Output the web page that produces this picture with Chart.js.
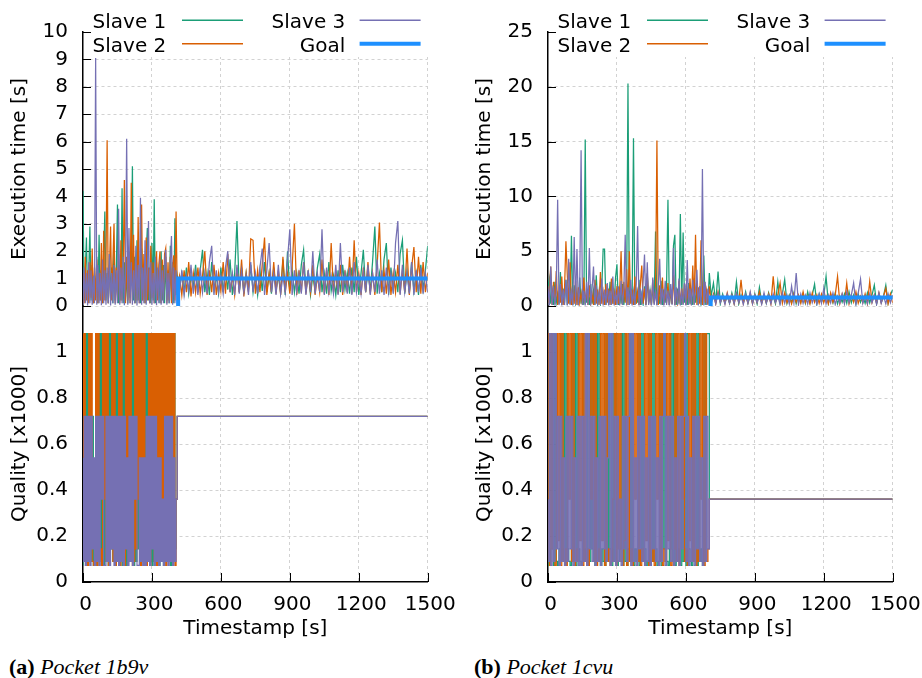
<!DOCTYPE html>
<html>
<head>
<meta charset="utf-8">
<script src="https://cdn.jsdelivr.net/npm/chart.js@4/dist/chart.umd.min.js"></script>
<style>
html,body{margin:0;padding:0;background:#fff;width:922px;height:678px;overflow:hidden;}
.wrap{position:absolute;top:0;width:457px;height:650px;}
#wrapL{left:0;}
#wrapR{left:465px;}
.cap{position:absolute;top:656px;font-family:"Liberation Serif","Times New Roman",serif;font-size:22px;line-height:22px;color:#000;white-space:nowrap;}
.cap b{font-weight:bold;}
.cap i{font-style:italic;}
</style>
</head>
<body>
<div class="wrap" id="wrapL"><canvas id="cL" width="457" height="650"></canvas></div>
<div class="wrap" id="wrapR"><canvas id="cR" width="457" height="650"></canvas></div>
<div class="cap" style="left:9px;"><b>(a)</b> <i>Pocket 1b9v</i></div>
<div class="cap" style="left:474px;"><b>(b)</b> <i>Pocket 1cvu</i></div>
<script>
// ---------- shared axis ticks ----------
const xTicks = [0, 300, 600, 900, 1200, 1500];
const qualityTicks = [0, 0.2, 0.4, 0.6, 0.8, 1];
const execTicksL = [0, 1, 2, 3, 4, 5, 6, 7, 8, 9, 10];
const execTicksR = [0, 5, 10, 15, 20, 25];
const seriesNames = ['Slave 1', 'Slave 2', 'Slave 3', 'Goal'];

// ---------- Pocket 1b9v (left) ----------
const stepPreL = 5;          // s between samples before the switch
const postStartL = 420, stepPostL = 10;
const execPre1L = [4.2,0.2,1.3,2.5,0.1,1.2,2.9,0.2,1.5,0.1, 1.1,0.3,1.8,0.1,2.6,0.2,1.3,0.1,1.6,3.45, 0.2,1.2,0.1,1.9,0.3,1.4,0.1,2.2,0.2,1.3, 3.7,0.1,1.5,0.2,4.3,0.1,1.6,0.2,1.2,0.1, 2.0,0.3,1.4,5.1,0.2,1.8,0.1,2.4,0.2,1.3, 0.1,2.1,0.2,1.5,0.1,1.9,2.85,0.2,1.4,0.1, 2.3,0.2,3.9,0.1,1.6,0.3,1.2,0.1,2.0,0.2, 1.5,0.1,1.8,0.2,1.3,0.1,2.2,0.2,1.6,0.1, 3.2,0.4,1.1];
const execPre2L = [1.2,0.1,1.8,0.2,1.3,0.1,1.6,0.3,2.1,0.1, 1.4,0.2,1.7,0.1,1.2,0.2,2.3,0.1,2.75,0.2, 1.5,6.05,0.1,1.3,2.9,0.2,1.6,3.0,0.1,1.4, 0.2,1.9,0.1,2.4,0.2,1.5,4.6,0.1,1.8,0.2, 1.3,0.1,4.5,0.2,2.6,0.1,1.7,0.2,3.25,0.1, 1.5,3.7,0.2,1.9,0.1,2.5,0.2,1.4,0.1,2.2, 0.3,1.6,0.1,1.3,2.0,0.2,1.5,2.0,0.1,1.7, 0.2,1.9,2.1,0.1,1.6,0.2,1.8,0.1,1.5,1.85, 0.2,3.45,0.6];
const execPre3L = [0.05,1.4,0.1,1.2,0.02,1.6,0.1,1.3,0.05,1.1, 0.1,9.05,0.05,1.5,0.1,1.2,0.03,1.7,0.1,1.3, 0.05,1.4,0.1,1.9,0.02,1.2,0.1,1.5,0.05,1.3, 0.1,3.55,0.05,1.4,0.1,1.8,0.03,1.2,6.1,0.05, 2.85,0.1,1.6,0.05,1.3,0.1,2.2,0.02,1.5,0.1, 3.95,0.05,1.4,0.1,2.4,0.05,1.3,3.1,0.1,1.6, 0.05,1.2,0.1,1.8,0.03,1.4,0.1,1.7,0.05,1.3, 0.1,1.5,2.05,0.05,1.2,0.1,1.6,2.55,0.05,1.4, 0.1,1.3,0.2];
const execPost1L = [0.6,1.2,0.5,1.4,0.45,1.1,0.7,1.5,0.5,1.3, 2.05,0.5,1.2,0.4,1.6,0.6,1.1,0.45,1.4,0.5, 1.3,0.6,1.7,0.4,1.2,3.1,0.5,1.4,0.45,1.2, 0.6,1.5,0.5,1.1,0.4,1.3,0.55,1.6,0.5,1.2, 0.45,1.4,0.6,1.1,0.5,1.7,0.4,2.0,0.55,1.3, 0.5,1.2,0.45,1.5,2.05,0.5,1.3,0.4,1.1,0.6, 1.4,1.9,0.5,1.2,0.45,1.6,0.55,1.1,0.4,1.3, 0.5,1.5,0.6,1.2,0.45,1.4,0.5,1.8,0.4,1.2, 2.05,0.5,1.3,0.55,1.6,2.9,0.45,1.2,0.5,1.7, 2.3,0.4,1.4,0.6,1.2,0.5,1.9,2.4,0.45,1.3, 0.5,1.6,0.55,1.2,0.4,1.5,0.6,1.3,2.2];
const execPost2L = [1.1,0.4,1.3,0.5,1.6,0.35,1.2,0.5,1.4,0.45, 1.1,2.0,0.4,1.3,0.5,1.5,0.4,1.2,0.55,1.6, 0.45,1.9,0.5,1.1,0.4,1.4,0.5,1.7,0.35,1.2, 0.5,2.45,2.4,0.45,1.3,0.5,1.5,2.5,0.4,1.2, 0.5,1.6,0.45,1.3,0.4,1.8,0.5,1.2,0.45,1.4, 3.0,0.4,1.3,0.5,1.6,0.45,1.2,0.5,1.5,0.4, 1.1,0.5,1.7,0.45,1.3,0.4,2.3,0.5,1.2,0.45, 1.5,0.4,1.3,0.5,1.8,0.45,2.4,0.5,1.2,0.4, 1.4,0.5,1.6,0.45,1.2,0.4,1.5,3.05,0.5,1.3, 0.45,1.7,0.4,1.2,0.5,1.5,0.45,1.3,0.5,2.1, 0.4,1.4,2.15,0.5,1.8,0.45,1.6,0.5,1.2];
const execPost3L = [0.5,1.3,0.4,1.1,0.55,1.5,0.45,1.2,0.4,1.4, 0.5,1.2,0.45,1.6,2.2,0.4,1.3,0.5,1.1,0.45, 1.4,2.0,0.5,1.2,0.4,1.5,0.45,1.3,0.5,1.1, 0.4,1.6,0.5,1.2,0.45,1.4,2.1,0.4,1.3,2.3, 0.5,1.2,0.4,1.5,0.45,1.1,0.5,1.7,2.8,0.4, 1.3,0.5,1.2,0.45,1.6,0.4,1.3,0.5,2.0,0.45, 1.2,0.5,2.8,0.4,1.4,0.5,1.1,0.45,1.5,0.4, 2.3,0.5,1.2,0.45,1.4,0.4,1.6,0.5,1.1,0.45, 1.3,0.5,1.5,0.4,1.2,0.5,1.7,0.45,1.3,0.4, 1.4,0.5,1.2,0.45,2.3,3.1,0.4,1.5,0.5,1.2, 0.45,1.6,0.4,1.3,0.5,1.4,0.45,1.2,0.5];
const goalTimesL = [414, 414, 1500];
const goalValuesL = [0, 1.0, 1.0];
const qualPre1L = [0.072,1.08,0.09,1.08,0.072,1.08,0.144,1.08,0.09,0.72, 0.072,0.09,1.08,0.072,1.08,0.144,1.08,0.09,1.08,0.072, 1.08,0.09,1.08,0.072,1.08,0.144,1.08,0.09,1.08,0.072, 1.08,0.09,1.08,0.144,1.08,0.072,1.08,0.09,1.08,0.072, 1.08,0.144,1.08,0.09,1.08,0.072,1.08,0.09,1.08,0.144, 1.08,0.072,1.08,0.09,1.08,0.072,1.08,0.144,1.08,0.09, 1.08,0.072,1.08,0.09,0.72,0.144,1.08,0.072,1.08,0.09, 1.08,0.072,1.08,0.144,1.08,0.09,1.08,0.072,1.08,0.09, 1.08,0.144,0.36];
const qualPre2L = [1.08,0.09,1.08,0.144,0.09,0.072,1.08,0.18,1.08,0.09, 0.072,0.144,1.08,0.072,1.08,0.09,0.144,0.072,1.08,0.36, 1.08,0.09,1.08,0.072,0.144,0.18,1.08,0.09,1.08,0.072, 0.09,0.144,1.08,0.072,1.08,0.09,0.18,0.072,1.08,0.144, 1.08,0.09,1.08,0.18,0.072,0.09,1.08,0.144,1.08,0.36, 1.08,0.072,1.08,0.09,1.08,0.144,0.072,0.09,1.08,0.072, 1.08,0.18,1.08,0.09,1.08,0.072,1.08,0.144,1.08,0.09, 1.08,0.36,1.08,0.072,1.08,0.09,1.08,0.144,1.08,0.18, 1.08,0.072,0.36];
const qualPre3L = [0.54,0.09,0.72,0.072,0.72,0.09,0.72,0.072,0.72,0.144, 0.54,0.072,0.72,0.09,0.72,0.072,0.72,0.36,0.72,0.072, 0.072,0.72,0.09,0.72,0.072,0.72,0.144,0.72,0.072,0.72, 0.09,0.72,0.072,0.72,0.09,0.72,0.072,0.72,0.144,0.54, 0.072,0.72,0.09,0.72,0.072,0.72,0.36,0.72,0.072,0.072, 0.54,0.09,0.54,0.072,0.54,0.072,0.72,0.09,0.72,0.072, 0.72,0.144,0.72,0.072,0.72,0.09,0.54,0.072,0.54,0.09, 0.36,0.072,0.72,0.09,0.72,0.072,0.72,0.09,0.72,0.072, 0.54,0.09,0.36];
const qualAfterTimesL = [415, 1500];
const qualAfterL = [0.72, 0.72];

// ---------- Pocket 1cvu (right) ----------
const stepPreR = 6;
const postStartR = 710, stepPostR = 10;
const execPre1R = [1.8,2.5,0.2,1.4,0.1,2.2,0.3,1.1,0.2,3.1, 0.1,1.6,0.3,2.4,0.1,1.2,0.2,6.4,0.1,1.9, 0.3,1.3,0.1,2.6,0.2,1.5,0.1,15.2,0.3,1.2, 0.1,2.0,0.2,1.4,0.1,2.8,0.3,1.1,0.2,1.7, 5.2,5.2,0.1,1.5,0.3,2.2,0.1,1.3,0.2,2.6, 3.8,0.1,1.4,0.2,2.0,0.1,1.2,0.3,20.3,0.1, 1.6,0.2,15.3,0.1,1.3,0.3,2.4,0.1,1.1,0.2, 1.8,0.1,2.9,0.2,1.4,0.1,1.7,0.3,6.8,0.1, 1.2,0.2,2.3,0.1,1.5,0.3,1.9,9.7,0.1,1.3, 0.2,5.5,6.5,0.1,1.6,0.2,8.4,0.1,6.7,0.3, 1.4,0.1,2.1,0.2,1.2,0.1,2.5,0.3,1.3,0.1, 1.8,0.2,1.1,4.6,0.1,1.5,0.2,3.0];
const execPre2R = [0.3,1.5,3.6,0.1,2.2,0.2,3.2,0.1,1.4,0.3, 2.7,0.1,1.6,5.9,2.8,0.2,4.0,0.1,1.3,0.2, 2.3,0.1,1.7,0.3,1.2,0.1,2.6,0.2,1.4,0.1, 1.9,0.3,1.1,0.1,2.4,0.2,1.5,0.1,3.1,0.2, 1.3,0.1,2.0,0.3,1.6,0.1,2.5,0.2,1.2,0.1, 1.8,0.2,1.4,5.0,0.1,2.2,0.3,3.35,0.1,5.0, 0.2,1.5,0.1,2.7,0.2,1.3,0.1,2.0,3.7,0.2, 1.6,0.1,3.0,0.3,1.2,0.1,2.4,0.2,1.4,15.1, 0.1,1.9,0.2,2.6,0.1,1.3,0.3,2.1,0.1,1.5, 0.2,2.8,0.1,1.2,0.3,2.3,0.1,1.6,0.2,2.0, 0.1,1.4,0.3,2.5,0.1,3.7,0.2,6.5,0.1,1.7, 0.2,6.0,0.1,2.2,0.3,1.4,0.1,1.8];
const execPre3R = [1.6,0.05,3.6,0.1,1.8,0.05,1.2,9.7,0.1,2.0, 0.05,1.5,0.1,2.4,0.05,4.3,0.1,1.3,0.05,6.3, 0.1,5.2,0.05,1.7,14.2,0.1,1.4,0.05,2.2,0.1, 5.3,0.05,1.6,3.6,0.1,1.9,0.05,1.3,0.1,2.5, 0.05,1.5,0.1,2.1,0.05,1.4,0.1,2.7,0.05,1.2, 0.1,1.8,0.05,2.3,0.1,1.5,6.5,0.05,1.7,0.1, 2.4,0.05,1.3,0.1,2.0,7.3,0.05,1.6,0.1,2.2, 4.7,0.05,4.0,0.1,1.5,0.05,2.6,0.1,1.3,0.05, 1.9,4.3,0.1,1.6,0.05,2.3,0.1,1.4,0.05,2.0, 0.1,5.3,0.05,1.7,0.1,2.5,0.05,1.3,0.1,2.1, 0.05,4.2,0.1,1.6,0.05,2.4,0.1,1.5,3.3,0.05, 1.8,0.1,12.5,0.05,2.2,0.1,1.6,0.05];
const execPost1R = [0.9,2.1,0.3,3.15,0.2,1.1,0.35,0.9,0.25,1.2, 0.3,2.2,0.2,1.0,0.35,1.3,0.25,0.9,0.3,1.1, 0.2,1.7,0.3,1.0,0.25,1.2,0.35,0.9,0.2,2.2, 0.3,1.1,2.4,0.25,1.0,0.3,1.2,0.2,0.9,0.35, 1.1,0.25,1.3,0.3,1.0,2.0,0.2,1.1,0.35,0.9, 2.7,0.25,1.0,0.3,1.2,0.2,0.9,0.35,1.1,0.25, 1.3,0.3,1.0,0.2,1.1,0.35,0.9,0.25,1.2,0.3, 1.0,1.9,0.2,1.1,0.35,0.9,1.9,0.25,1.0,1.5];
const execPost2R = [0.3,1.1,0.2,1.3,0.35,0.9,0.25,1.2,0.3,1.0, 0.2,1.1,0.35,2.4,0.25,0.9,0.3,1.2,0.2,1.0, 0.35,1.3,0.25,0.9,0.3,1.1,0.2,2.7,0.35,1.0, 2.1,0.25,1.2,0.3,0.9,0.2,1.1,0.35,1.0,0.25, 1.3,0.3,0.9,0.2,1.2,0.35,1.0,0.25,1.1,0.3, 0.9,0.2,1.2,0.35,1.0,2.7,0.25,1.1,0.3,2.1, 0.2,1.0,0.35,1.3,0.25,0.9,0.3,1.1,0.2,2.25, 0.35,1.0,0.25,1.2,0.3,0.9,1.6,0.2,1.1,0.3];
const execPost3R = [0.25,1.0,0.2,1.2,0.3,0.9,0.15,1.1,0.25,1.0, 0.2,1.2,0.3,0.9,0.15,1.1,0.25,1.3,0.2,1.0, 0.3,0.9,0.15,1.2,0.25,1.0,0.2,1.1,0.3,0.9, 0.15,1.2,0.25,1.0,0.2,1.8,0.3,3.0,0.15,1.1, 0.25,1.0,0.2,1.2,0.3,0.9,0.15,1.1,0.25,1.6, 0.2,1.0,0.3,1.2,0.15,0.9,0.25,1.1,0.2,1.3, 0.3,1.0,2.1,0.15,1.2,2.45,0.25,0.9,0.2,1.1, 0.3,1.0,0.15,1.2,0.25,0.9,0.2,1.1,0.3,1.0];
const goalTimesR = [708, 708, 1500];
const goalValuesR = [0, 0.78, 0.78];
const qualPre1R = [1.08,0.072,0.09,0.144,1.08,0.072,1.08,0.09,0.072,0.144, 1.08,0.09,1.08,0.072,1.08,0.144,0.09,0.072,1.08,0.09, 1.08,0.072,1.08,0.144,0.09,0.072,1.08,0.09,0.144,1.08, 0.072,0.09,1.08,0.144,1.08,0.072,1.08,0.09,1.08,0.072, 0.144,0.09,0.072,1.08,0.09,1.08,0.144,0.072,1.08,0.09, 1.08,0.072,0.09,0.144,1.08,0.072,1.08,0.09,0.072,0.144, 1.08,0.09,1.08,0.072,0.144,0.09,1.08,0.072,1.08,0.09, 1.08,0.144,0.072,0.09,1.08,0.072,1.08,0.09,1.08,0.144, 0.072,0.09,1.08,0.072,1.08,0.144,1.08,0.09,0.072,0.144, 1.08,0.09,1.08,0.072,1.08,0.144,0.09,0.072,1.08,0.09, 1.08,0.072,1.08,0.144,0.09,0.072,1.08,0.09,1.08,0.072, 1.08,0.09,0.144,0.072,1.08,0.09,1.08,1.08];
const qualPre2R = [0.09,1.08,0.072,1.08,0.144,0.09,0.072,1.08,0.18,1.08, 0.072,1.08,0.09,0.144,0.072,1.08,0.36,1.08,0.09,1.08, 0.072,0.144,0.09,1.08,0.18,1.08,0.072,1.08,0.09,0.144, 0.072,1.08,0.36,1.08,0.09,1.08,0.072,0.144,0.09,1.08, 0.18,1.08,0.072,1.08,0.09,0.144,0.072,0.09,0.36,1.08, 0.072,1.08,0.144,1.08,0.09,0.072,0.18,1.08,0.072,1.08, 0.09,0.144,0.072,1.08,0.36,1.08,0.09,1.08,0.072,0.144, 0.09,1.08,0.18,1.08,0.072,1.08,0.09,0.144,0.072,1.08, 0.36,1.08,0.09,1.08,0.072,0.144,0.09,1.08,0.18,1.08, 0.072,0.09,0.144,1.08,0.09,1.08,0.072,1.08,0.36,1.08, 0.09,0.144,0.072,1.08,0.18,1.08,0.09,1.08,0.072,0.144, 0.09,1.08,0.36,1.08,0.072,1.08,0.09,0.144];
const qualPre3R = [0.36,0.09,1.08,0.072,1.08,0.09,1.08,0.144,0.72,0.072, 0.72,0.09,0.54,0.072,0.72,0.09,0.72,0.144,0.72,0.072, 0.54,0.09,0.72,0.072,0.72,0.072,0.72,0.09,1.08,0.072, 1.08,0.144,0.72,0.09,0.72,0.072,0.54,0.09,0.72,0.072, 0.72,0.144,0.72,0.09,0.54,1.08,0.072,1.08,0.09,0.72, 0.072,0.72,0.09,0.36,0.072,0.72,0.144,0.72,0.09,0.72, 1.08,0.072,1.08,0.09,0.54,0.072,0.72,0.144,0.72,0.09, 0.72,0.072,0.54,0.09,0.72,0.072,0.72,0.144,0.72,0.09, 0.54,0.072,0.72,0.09,0.72,1.08,0.072,0.72,0.144,0.72, 0.09,0.72,0.072,0.54,0.09,0.72,0.072,0.72,0.144,0.72, 1.08,0.09,0.72,0.072,0.54,0.09,0.72,0.072,0.72,0.144, 0.72,0.09,0.54,0.072,0.72,0.09,0.72,0.144];
const qualAfterTimesR = [708, 1500];
const qualAfterR = [0.36, 0.36];

// ---------- styling ----------
const colors = ['#1b9e77', '#d95f02', '#7570b3', '#1e90ff'];
const FONT = "'DejaVu Sans', 'Liberation Sans', sans-serif";
Chart.defaults.font.family = FONT;
Chart.defaults.font.size = 20;
Chart.defaults.color = '#000';
Chart.defaults.animation = false;
const GRID = '#d2d2d2';

function timeSeries(pre, preStep, post, postStart, postStep) {
  const a = pre.map((v, i) => ({x: i * preStep, y: v}));
  const b = post.map((v, j) => ({x: postStart + j * postStep, y: v}));
  return a.concat(b);
}
function qualSeries(pre, preStep, afterTimes, afterVals) {
  const a = pre.map((v, i) => ({x: i * preStep, y: v}));
  return a.concat(afterTimes.map((t, k) => ({x: t, y: afterVals[k]})));
}
function zip(ts, vs) { return ts.map((t, k) => ({x: t, y: vs[k]})); }

const tickMarks = {
  id: 'tickMarks',
  beforeDatasetsDraw(chart) {
    const ctx = chart.ctx, a = chart.chartArea;
    ctx.save();
    ctx.strokeStyle = '#000';
    ctx.lineWidth = 1;
    ['yT', 'yB'].forEach(id => {
      const s = chart.scales[id];
      s.ticks.forEach(t => {
        const y = Math.round(s.getPixelForValue(t.value)) + 0.5;
        ctx.beginPath(); ctx.moveTo(a.left, y); ctx.lineTo(a.left + 8, y); ctx.stroke();
      });
    });
    const sx = chart.scales.x;
    sx.ticks.forEach(t => {
      const x = Math.round(sx.getPixelForValue(t.value)) + 0.5;
      ctx.beginPath(); ctx.moveTo(x, a.bottom); ctx.lineTo(x, a.bottom - 9); ctx.stroke();
    });
    ctx.restore();
  }
};

const keyBox = {
  id: 'keyBox',
  afterDraw(chart) {
    const ctx = chart.ctx, a = chart.chartArea;
    ctx.save();
    ctx.fillStyle = '#fff';
    ctx.fillRect(a.left + 9, 0, a.right - a.left - 8, 57);
    ctx.font = '20px ' + FONT;
    ctx.textAlign = 'right';
    ctx.textBaseline = 'alphabetic';
    const textRight = [83.3, 262.3];
    const sampleLeft = [99, 276.6];
    const baseY = [28.3, 51.7];
    const lineY = [20.3, 43.7];
    chart.data.datasets.forEach(d => {
      if (d.keySlot === undefined) return;
      const col = Math.floor(d.keySlot / 2), row = d.keySlot % 2;
      ctx.fillStyle = '#000';
      ctx.fillText(d.label, a.left + textRight[col], baseY[row]);
      ctx.strokeStyle = d.borderColor;
      ctx.lineWidth = d.keyWidth;
      ctx.beginPath();
      ctx.moveTo(a.left + sampleLeft[col], lineY[row]);
      ctx.lineTo(a.left + sampleLeft[col] + 61, lineY[row]);
      ctx.stroke();
    });
    ctx.restore();
  }
};

function makeChart(id, d) {
  const exec = [
    timeSeries(d.pre1, d.preStep, d.post1, d.postStart, d.postStep),
    timeSeries(d.pre2, d.preStep, d.post2, d.postStart, d.postStep),
    timeSeries(d.pre3, d.preStep, d.post3, d.postStart, d.postStep)
  ];
  const qual = [
    qualSeries(d.q1, d.preStep, d.qTimes, d.qAfter),
    qualSeries(d.q2, d.preStep, d.qTimes, d.qAfter),
    qualSeries(d.q3, d.preStep, d.qTimes, d.qAfter)
  ];
  const datasets = [];
  for (let k = 0; k < 3; k++) {
    datasets.push({label: seriesNames[k], data: exec[k], yAxisID: 'yT', borderColor: colors[k], borderWidth: 1.25, pointRadius: 0, order: 6 - k, keySlot: [0, 1, 2][k], keyWidth: 1.4});
  }
  datasets.push({label: seriesNames[3], data: zip(d.goalTimes, d.goalValues), yAxisID: 'yT', borderColor: colors[3], borderWidth: 4, pointRadius: 0, order: 0, keySlot: 3, keyWidth: 4});
  for (let k = 0; k < 3; k++) {
    datasets.push({label: seriesNames[k] + ' quality', data: qual[k], yAxisID: 'yB', borderColor: colors[k], borderWidth: 1.25, pointRadius: 0, stepped: 'after', order: 3 - k});
  }
  const gridColor = (hide) => (c) => (c.tick && hide.includes(c.tick.value)) ? 'rgba(0,0,0,0)' : GRID;
  const yFit = s => { s.width = 83; s.paddingTop = 0; s.paddingBottom = 0; };
  return new Chart(document.getElementById(id), {
    type: 'line',
    data: {datasets},
    plugins: [tickMarks, keyBox],
    options: {
      responsive: false,
      animation: false,
      events: [],
      layout: {padding: {left: 0, right: 29.3, top: 32, bottom: 0}},
      plugins: {legend: {display: false}, tooltip: {enabled: false}},
      elements: {line: {tension: 0}},
      scales: {
        x: {
          type: 'linear', min: 0, max: 1500,
          afterBuildTicks: s => { s.ticks = xTicks.map(v => ({value: v})); },
          afterFit: s => { s.height = 68; s.paddingLeft = 0; s.paddingRight = 0; },
          ticks: {padding: 11, labelOffset: 2.5, maxRotation: 0, autoSkip: false, callback: v => String(v)},
          grid: {drawTicks: false, color: gridColor([0]), lineWidth: 1},
          border: {display: true, color: '#000', width: 1.5, dash: [3, 3]},
          title: {display: true, text: 'Timestamp [s]', padding: {top: 0, bottom: 9}}
        },
        yB: {
          type: 'linear', position: 'left', stack: 'v', stackWeight: 276, min: 0, max: 1.2,
          afterBuildTicks: s => { s.ticks = qualityTicks.map(v => ({value: v})); },
          afterFit: yFit,
          ticks: {padding: 15, autoSkip: false, callback: v => String(v)},
          grid: {drawTicks: false, color: gridColor([0]), lineWidth: 1},
          border: {display: true, color: '#000', width: 1.5, dash: [3, 3]},
          title: {display: true, text: 'Quality [x1000]', padding: {top: 8, bottom: 0}}
        },
        yT: {
          type: 'linear', position: 'left', stack: 'v', stackWeight: 274, min: 0, max: d.execMax,
          afterBuildTicks: s => { s.ticks = d.execTicks.map(v => ({value: v})); },
          afterFit: yFit,
          ticks: {padding: 15, autoSkip: false, callback: v => String(v)},
          grid: {drawTicks: false, color: gridColor([d.execMax]), lineWidth: 1},
          border: {display: true, color: '#000', width: 1.5, dash: [3, 3]},
          title: {display: true, text: 'Execution time [s]', padding: {top: 8, bottom: 0}}
        }
      }
    }
  });
}

makeChart('cL', {
  preStep: stepPreL, postStart: postStartL, postStep: stepPostL,
  pre1: execPre1L, pre2: execPre2L, pre3: execPre3L,
  post1: execPost1L, post2: execPost2L, post3: execPost3L,
  goalTimes: goalTimesL, goalValues: goalValuesL,
  q1: qualPre1L, q2: qualPre2L, q3: qualPre3L, qTimes: qualAfterTimesL, qAfter: qualAfterL,
  execTicks: execTicksL, execMax: 10
});
makeChart('cR', {
  preStep: stepPreR, postStart: postStartR, postStep: stepPostR,
  pre1: execPre1R, pre2: execPre2R, pre3: execPre3R,
  post1: execPost1R, post2: execPost2R, post3: execPost3R,
  goalTimes: goalTimesR, goalValues: goalValuesR,
  q1: qualPre1R, q2: qualPre2R, q3: qualPre3R, qTimes: qualAfterTimesR, qAfter: qualAfterR,
  execTicks: execTicksR, execMax: 25
});
</script>
</body>
</html>
